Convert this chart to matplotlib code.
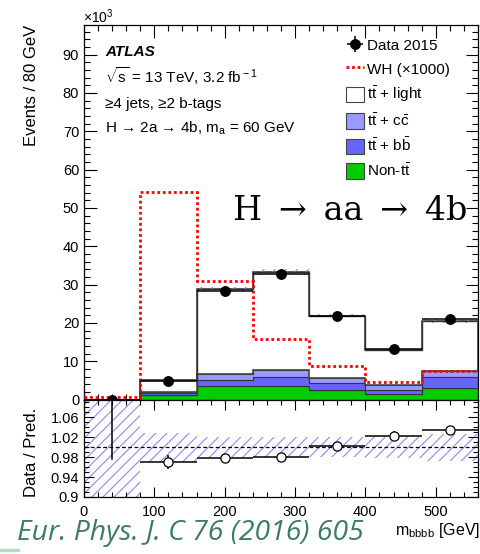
import numpy as np
import matplotlib
matplotlib.use("Agg")
import matplotlib.pyplot as plt
from matplotlib.patches import Patch
from matplotlib.lines import Line2D
from matplotlib.ticker import MultipleLocator

# ---- binned m_bbbb distribution (units of 10^3 events) ----
bin_edges = [0, 80, 160, 240, 320, 400, 480, 560]
data_2015 = [0.0, 4.85, 28.3, 32.7, 21.9, 13.3, 21.1]
non_tt = [0.0, 1.2, 3.5, 3.6, 2.35, 1.5, 3.05]
tt_bb = [0.0, 0.55, 1.6, 2.2, 2.0, 1.1, 2.75]
tt_cc = [0.0, 0.25, 1.6, 2.0, 1.35, 1.15, 1.6]
tt_light = [0.0, 3.0, 22.2, 25.55, 16.15, 9.25, 13.0]
wh_x1000 = [0.6, 54.2, 30.9, 15.7, 8.8, 4.45, 7.5]
rel_unc = [1.0, 0.029, 0.02, 0.02, 0.02, 0.021, 0.027]
empty_bin_ratio_low = 0.976

x_ticks = [0, 100, 200, 300, 400, 500]
main_y_ticks = [0, 10, 20, 30, 40, 50, 60, 70, 80, 90]
ratio_y_ticks = [0.9, 0.94, 0.98, 1.02, 1.06]

legend_labels = ["Data 2015", "WH (\u00d71000)", r"t$\bar{\rm t}$ + light",
                 r"t$\bar{\rm t}$ + c$\bar{\rm c}$", r"t$\bar{\rm t}$ + b$\bar{\rm b}$",
                 r"Non-t$\bar{\rm t}$"]

plt.rcParams['font.family'] = ['Liberation Sans', 'DejaVu Sans']
plt.rcParams['mathtext.fontset'] = 'custom'
plt.rcParams['mathtext.rm'] = 'Liberation Sans'
plt.rcParams['mathtext.it'] = 'Liberation Sans:italic'
plt.rcParams['hatch.linewidth'] = 0.8

W, H = 481, 554
fig = plt.figure(figsize=(W / 100, H / 100), dpi=100)

def fx(px):
    return px / W

def fy(py):
    return 1 - py / H

ax = fig.add_axes([fx(84), fy(399.5), fx(478) - fx(84), fy(25) - fy(399.5)])
axr = fig.add_axes([fx(84), fy(497), fx(478) - fx(84), fy(399.5) - fy(497)])

edges = np.array(bin_edges, dtype=float)
centers = 0.5 * (edges[:-1] + edges[1:])
half_w = 0.5 * np.diff(edges)

c_non = np.array(non_tt)
c_bb = c_non + np.array(tt_bb)
c_cc = c_bb + np.array(tt_cc)
total = c_cc + np.array(tt_light)
unc = total * np.array(rel_unc)
unc[0] = 0.0

hatch_col = '#8a8af2'

# stacked backgrounds
ax.stairs(c_non, edges, baseline=0, fill=True, facecolor='#00cc00', edgecolor='#2a5a2a', lw=0.8, zorder=2)
ax.stairs(c_bb, edges, baseline=c_non, fill=True, facecolor='#6666ff', edgecolor='#333333', lw=0.8, zorder=2)
ax.stairs(c_cc, edges, baseline=c_bb, fill=True, facecolor='#9999ff', edgecolor='#333333', lw=0.8, zorder=2)
ax.stairs(total, edges, baseline=c_cc, fill=True, facecolor='white', edgecolor='#444444', lw=1.2, zorder=2)
# systematic band on the total prediction
ax.stairs(total + unc, edges, baseline=total - unc, fill=True, facecolor='none',
          edgecolor=hatch_col, lw=0, hatch='///', zorder=3)
ax.stairs(total, edges, baseline=None, color='#333333', lw=1.0, zorder=3)

# signal
ax.stairs(wh_x1000, edges, baseline=None, color='#ff0000', lw=2.0, linestyle=(0, (1, 1)), zorder=4)

# data
d = np.array(data_2015)
d_err = np.sqrt(d * 1e3) / 1e3
data_h = ax.errorbar(centers, d, xerr=half_w, yerr=d_err, fmt='o', color='black',
                     markersize=6.8, elinewidth=1.1, capsize=0, zorder=6, clip_on=False)

ax.set_xlim(0, 560)
ax.set_ylim(0, 97.7)
ax.set_yticks(main_y_ticks)
ax.yaxis.set_minor_locator(MultipleLocator(2))
ax.xaxis.set_major_locator(MultipleLocator(100))
ax.xaxis.set_minor_locator(MultipleLocator(20))
ax.tick_params(which='both', direction='in', top=True, right=True, labelbottom=False,
               labelsize=10.5, width=0.8)
ax.tick_params(which='major', length=9)
ax.tick_params(which='minor', length=4.5)
for s in ax.spines.values():
    s.set_linewidth(0.9)

# ratio panel
ratio = np.full_like(d, np.nan)
ratio[1:] = d[1:] / total[1:]
ratio_err = np.full_like(d, np.nan)
ratio_err[1:] = d_err[1:] / total[1:]
band = np.array(rel_unc)
axr.stairs(1 + band, edges, baseline=1 - band, fill=True, facecolor='none',
           edgecolor=hatch_col, lw=0, hatch='///', zorder=1)
axr.axhline(1.0, color='black', lw=0.9, linestyle=(0, (3, 2)), zorder=2)
axr.errorbar(centers[1:], ratio[1:], xerr=half_w[1:], yerr=ratio_err[1:], fmt='o',
             mfc='white', mec='black', mew=0.9, color='black', markersize=6.6,
             elinewidth=1.1, capsize=0, zorder=5)
axr.plot([centers[0], centers[0]], [1.1, empty_bin_ratio_low], color='black', lw=1.1, zorder=5)

axr.set_xlim(0, 560)
axr.set_ylim(0.9, 1.0957)
axr.set_yticks(ratio_y_ticks)
axr.set_yticklabels(['0.9', '0.94', '0.98', '1.02', '1.06'])
axr.yaxis.set_minor_locator(MultipleLocator(0.01))
axr.set_xticks(x_ticks)
axr.xaxis.set_minor_locator(MultipleLocator(20))
axr.tick_params(which='both', direction='in', top=True, right=True, labelsize=10.5, width=0.8)
axr.tick_params(which='major', length=7.5)
axr.tick_params(which='minor', length=3.8)
axr.tick_params(axis='x', pad=6)
for s in axr.spines.values():
    s.set_linewidth(0.9)

# axis titles
fig.text(fx(32), fy(25), "Events / 80 GeV", rotation=90, ha='center', va='top', fontsize=12)
fig.text(fx(32), fy(452), "Data / Pred.", rotation=90, ha='center', va='center', fontsize=12)
fig.text(fx(480), fy(535), r"m$_{\rm bbbb}$ [GeV]", ha='right', va='baseline', fontsize=11.5)
fig.text(fx(83), fy(22.5), r"$\times$10$^{3}$", ha='left', va='baseline', fontsize=10)

# labels in the upper-left corner
fig.text(fx(105), fy(56), "ATLAS", fontsize=11, fontweight='bold', fontstyle='italic', va='baseline')
fig.text(fx(105), fy(83), r"$\sqrt{\rm s}$ = 13 TeV, 3.2 fb$^{\rm -1}$", fontsize=11, va='baseline')
fig.text(fx(105), fy(108), "\u22654 jets, \u22652 b-tags", fontsize=11, va='baseline')
fig.text(fx(105), fy(133), "H \u2192 2a \u2192 4b, m$_{\\rm a}$ = 60 GeV", fontsize=11, va='baseline')

# process title
fig.text(fx(233), fy(220), "H\u2002\u2192\u2002aa\u2002\u2192\u20024b", fontsize=24,
         family=['DejaVu Serif'], va='baseline', ha='left')

# legend
handles = [data_h,
           Line2D([], [], color='#ff0000', lw=2.0, linestyle=(0, (1, 1))),
           Patch(facecolor='white', edgecolor='#444444', lw=0.8),
           Patch(facecolor='#9999ff', edgecolor='#444444', lw=0.8),
           Patch(facecolor='#6666ff', edgecolor='#444444', lw=0.8),
           Patch(facecolor='#00cc00', edgecolor='#444444', lw=0.8)]
ax.legend(handles, legend_labels, loc='upper left', bbox_to_anchor=(fx(346), fy(37.5)),
          bbox_transform=fig.transFigure, frameon=False, fontsize=11,
          handlelength=1.18, handleheight=1.18, labelspacing=0.5, handletextpad=0.2,
          borderpad=0, borderaxespad=0)

# publication reference
fig.text(fx(17), fy(540), "Eur. Phys. J. C 76 (2016) 605", fontsize=20.4, family=['Open Sans'],
         fontstyle='italic', color='#3f7a66', va='baseline', ha='left')
fig.add_artist(Line2D([0, fx(18)], [fy(550), fy(550)], color='#b4dcbf', lw=2.5))

fig.savefig("out.png", dpi=100)
